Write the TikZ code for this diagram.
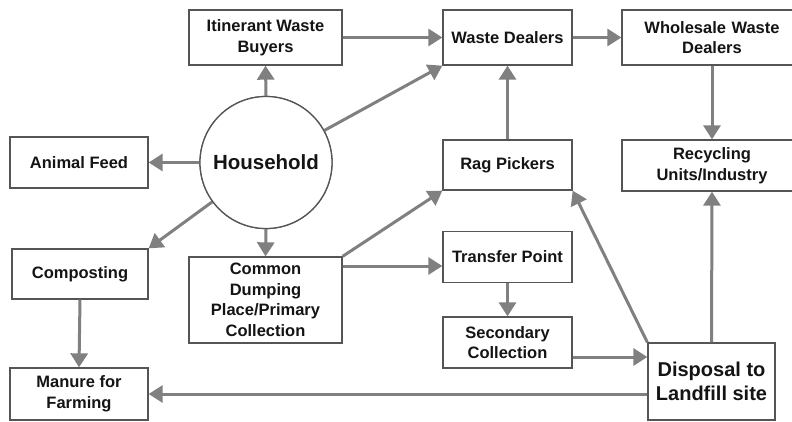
\documentclass[tikz,border=0pt]{standalone}
\usepackage{fontspec}
\setmainfont{Liberation Sans}
\usetikzlibrary{arrows.meta}
\definecolor{arr}{RGB}{128,128,128}
\definecolor{bord}{RGB}{85,85,85}
\definecolor{txt}{RGB}{20,20,20}
\begin{document}
\begin{tikzpicture}[x=1pt,y=-1pt,
  box/.style={draw=bord,line width=1.3pt,fill=white,inner sep=0pt,align=center,
    font=\bfseries\fontsize{16.5}{20.5}\selectfont,text=txt},
  flow/.style={draw=arr,line width=3pt,-{Triangle[length=14pt,width=17pt]}}]
\useasboundingbox (0,0) rectangle (792,421);
\clip (0,0) rectangle (792,421);
\fill[white] (0,0) rectangle (792,421);

\node[box,minimum width=153pt,minimum height=55pt] (itin) at (265.5,37.5) {Itinerant Waste\\Buyers};
\node[box,circle,minimum size=132pt,font=\bfseries\fontsize{20.5}{24}\selectfont] (hh) at (266,162.5) {Household};
\node[box,minimum width=138pt,minimum height=51pt] (animal) at (79,162.5) {Animal Feed};
\node[box,minimum width=136pt,minimum height=50pt] (comp) at (80,274) {Composting};
\node[box,minimum width=153pt,minimum height=86pt] (common) at (265.5,300) {Common\\Dumping\\Place/Primary\\Collection};
\node[box,minimum width=138pt,minimum height=52pt] (manure) at (79,394) {Manure for\\Farming};
\node[box,minimum width=129pt,minimum height=55pt] (wd) at (507.5,37.5) {Waste Dealers};
\node[box,minimum width=180pt,minimum height=55pt,text width=158pt] (wwd) at (712,37.5) {Wholesale Waste\\Dealers};
\node[box,minimum width=129pt,minimum height=50pt] (rag) at (507.5,165) {Rag Pickers};
\node[box,minimum width=180pt,minimum height=51pt,text width=158pt] (recyc) at (712,165.5) {Recycling\\Units/Industry};
\node[box,minimum width=129pt,minimum height=51pt] (transfer) at (507.5,257) {Transfer Point};
\node[box,minimum width=129pt,minimum height=51pt] (secondary) at (507.5,342.5) {Secondary\\Collection};
\node[box,minimum width=127pt,minimum height=77pt,font=\bfseries\fontsize{20}{24}\selectfont] (disposal) at (711.5,381.5) {Disposal to\\Landfill site};

\coordinate (c1) at (common.east |- 0,266);
\coordinate (s2) at ([yshift=-14.5pt]secondary.east);
\coordinate (d1) at (disposal.west |- manure.east);

\draw[flow] (hh.north) -- (itin.south);
\draw[flow] (hh.west) -- (animal.east);
\draw[flow] (hh) -- (comp.north east);
\draw[flow] (hh.south) -- (common.north);
\draw[flow] (hh) -- (wd.south west);
\draw[flow] (itin.east) -- (wd.west);
\draw[flow] (wd.east) -- (wwd.west);
\draw[flow] (wwd.south) -- (recyc.north);
\draw[flow] (rag.north) -- (wd.south);
\draw[flow] (common.north east) -- (rag.south west);
\draw[flow] (c1) -- (c1 -| transfer.west);
\draw[flow] (transfer.south) -- (secondary.north);
\draw[flow] (s2) -- (s2 -| disposal.west);
\draw[flow] (disposal.north west) -- (rag.south east);
\draw[flow] (disposal.north) -- (recyc.south);
\draw[flow] (d1) -- (manure.east);
\draw[flow] (comp.south) -- (manure.north);

% redraw circle on top so lines starting inside are hidden
\node[box,circle,minimum size=132pt,font=\bfseries\fontsize{20.5}{24}\selectfont] at (266,162.5) {Household};
\end{tikzpicture}
\end{document}
